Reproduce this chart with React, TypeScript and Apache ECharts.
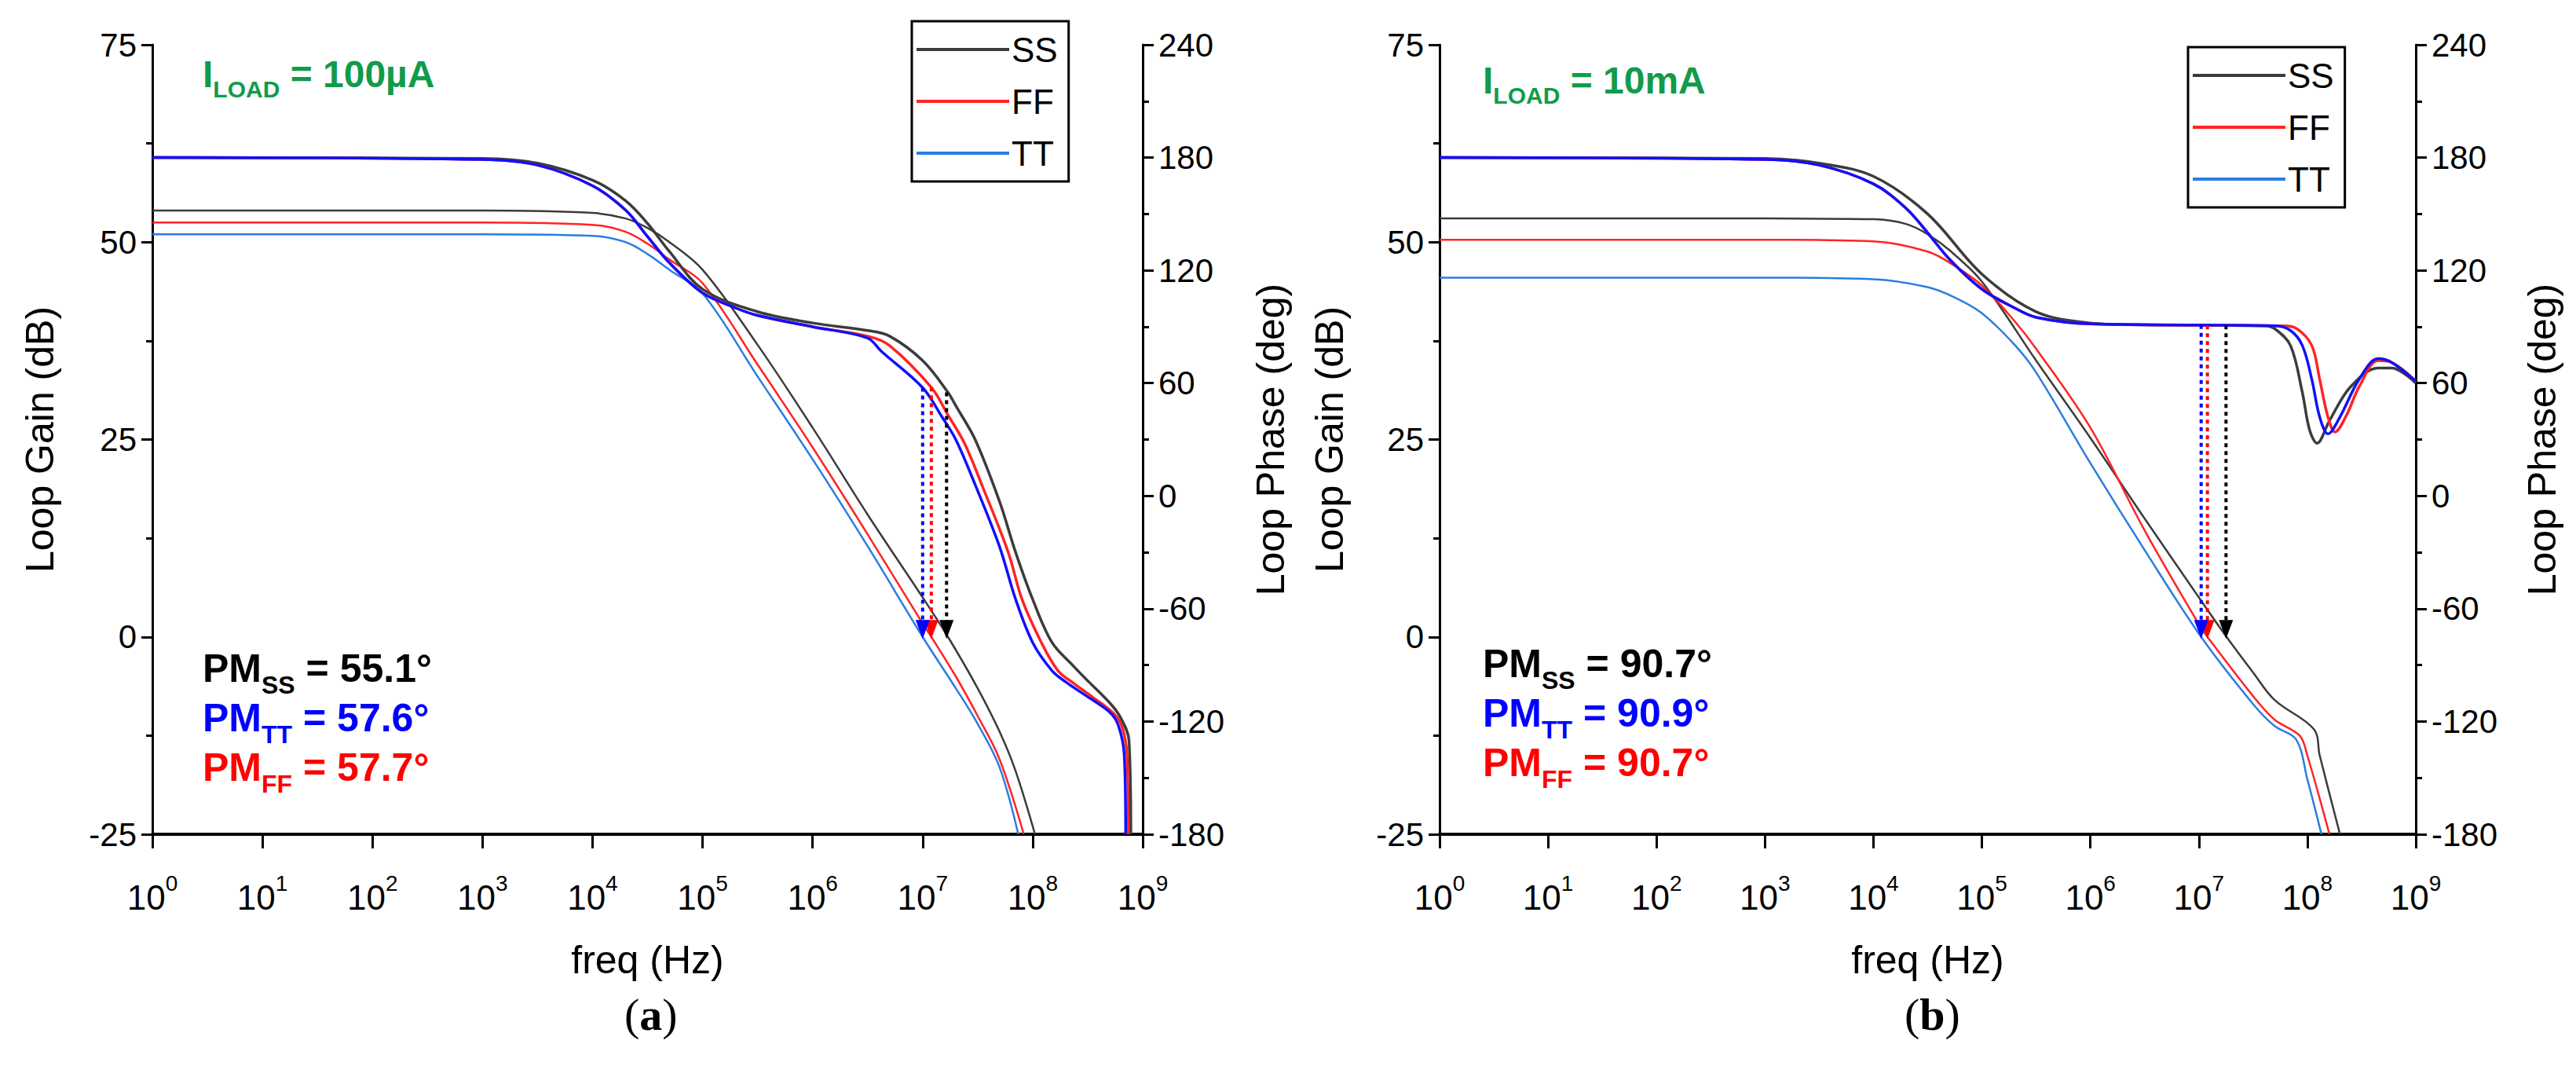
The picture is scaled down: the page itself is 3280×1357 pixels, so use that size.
import { useEffect, useRef } from "react"
import * as echarts from "echarts"

// ---- (a) ILOAD = 100uA ----
const gainA_SS = [[1, 54], [1e3, 54], [1e4, 53.7], [2e4, 53], [3.16e4, 51.8], [5e4, 50], [1e5, 46.5], [3.16e5, 37], [1e6, 26.5], [3.16e6, 15.5], [1e7, 5], [1.7e7, 0], [3.16e7, -6.5], [5e7, -12], [7e7, -17], [1.05e8, -25]]
const gainA_FF = [[1, 52.5], [1e3, 52.5], [1e4, 52.2], [2e4, 51.3], [3.16e4, 49.8], [5e4, 47.8], [1e5, 44.8], [3.16e5, 34.5], [1e6, 24], [3.16e6, 13], [1e7, 1.7], [1.2e7, 0], [2e7, -5], [3.16e7, -10], [5e7, -15.5], [8.3e7, -25]]
const gainA_TT = [[1, 51], [1e3, 51], [1e4, 50.8], [2e4, 50], [3.16e4, 48.5], [5e4, 46.5], [1e5, 43.5], [3.16e5, 33], [1e6, 22.5], [3.16e6, 11.5], [1e7, 0], [2e7, -6.5], [3.16e7, -11], [5e7, -16.5], [7.4e7, -25]]
const phaseA_SS = [[1, 180], [1e3, 179.5], [3.16e3, 177], [1e4, 168], [2e4, 157], [3.16e4, 145], [5e4, 130], [1e5, 110], [3.16e5, 98], [1e6, 92], [3.16e6, 88], [5e6, 85], [1e7, 72], [1.7e7, 55.1], [2e7, 48], [3e7, 30], [5e7, -3], [7e7, -30], [1e8, -55], [1.5e8, -78], [2.3e8, -90], [3e8, -97], [5e8, -110], [6.3e8, -118], [7.5e8, -130], [7.8e8, -180]]
const phaseA_FF = [[1, 180], [1e3, 179], [3.16e3, 176], [1e4, 165], [2e4, 152], [3.16e4, 138], [5e4, 124], [1e5, 108], [2e5, 100], [3.16e5, 96], [1e6, 90], [3.16e6, 85], [5e6, 80], [1.2e7, 57.7], [1.7e7, 43], [2.4e7, 28], [3.5e7, 5], [6e7, -30], [8e7, -55], [1.2e8, -78], [1.7e8, -93], [2.4e8, -100], [3.5e8, -107], [5.5e8, -116], [6.5e8, -123], [7.2e8, -138], [7.4e8, -180]]
const phaseA_TT = [[1, 180], [1e3, 179], [3.16e3, 176], [1e4, 165], [2e4, 152], [3.16e4, 138], [5e4, 124], [1e5, 108], [2e5, 100], [3.16e5, 96], [1e6, 90], [3.16e6, 84], [4.2e6, 77], [1e7, 57.6], [1.5e7, 42], [2e7, 30], [3e7, 6], [5e7, -27], [7e7, -55], [1e8, -78], [1.5e8, -93], [2e8, -99], [3e8, -106], [5e8, -115], [6e8, -122], [6.8e8, -138], [7e8, -180]]

// ---- (b) ILOAD = 10mA ----
const gainB_SS = [[1, 53], [1e3, 53], [1e4, 52.9], [2e4, 52.3], [3.16e4, 51], [5e4, 49], [1e5, 45], [3.16e5, 35], [1e6, 25.2], [3.16e6, 15], [1e7, 5], [1.8e7, 0], [3.16e7, -4.5], [5e7, -8], [1.15e8, -11.7], [1.3e8, -15], [2e8, -25]]
const gainB_FF = [[1, 50.3], [1e3, 50.3], [1e4, 50.1], [3.16e4, 48.8], [5.6e4, 47], [1e5, 44.5], [2e5, 40], [3.16e5, 36.5], [1e6, 26.5], [3.16e6, 13.5], [1e7, 1.6], [1.2e7, 0], [3.16e7, -7.5], [5e7, -10.5], [8.5e7, -12.5], [1e8, -15], [1.6e8, -25]]
const gainB_TT = [[1, 45.5], [1e3, 45.5], [1e4, 45.3], [3.16e4, 44.3], [5.6e4, 43], [1e5, 41], [2e5, 37], [3.16e5, 33.5], [1e6, 22], [3.16e6, 11], [1.05e7, 0], [3.16e7, -8.5], [5e7, -11.3], [7.9e7, -13], [1e8, -18], [1.35e8, -25]]
const phaseB_SS = [[1, 180], [1e3, 179.5], [3.16e3, 177], [1e4, 170], [3.16e4, 150], [1e5, 118], [3.16e5, 98], [1e6, 92], [3.16e6, 91], [4e7, 90.5], [5e7, 89], [7e7, 80], [9e7, 55], [1.05e8, 35], [1.23e8, 28], [1.6e8, 40], [2.5e8, 58], [4.5e8, 68], [6e8, 68], [1e9, 60]]
const phaseB_FF = [[1, 180], [1e3, 179], [3.16e3, 176], [1e4, 166], [2e4, 153], [3.16e4, 140], [5e4, 126], [1e5, 110], [2e5, 100], [3.16e5, 95], [1e6, 91.5], [1e7, 90.8], [6e7, 90.5], [8e7, 89], [1.1e8, 80], [1.3e8, 62], [1.55e8, 42], [1.8e8, 34], [2.3e8, 43], [3e8, 58], [4.5e8, 72], [6e8, 71], [1e9, 61]]
const phaseB_TT = [[1, 180], [1e3, 179], [3.16e3, 176], [1e4, 166], [2e4, 153], [3.16e4, 140], [5e4, 126], [1e5, 110], [2e5, 100], [3.16e5, 95], [1e6, 91.5], [1e7, 90.9], [5e7, 90.5], [7e7, 88], [9e7, 80], [1.1e8, 62], [1.3e8, 42], [1.55e8, 33], [2e8, 42], [3e8, 62], [4.5e8, 73], [6e8, 71], [1e9, 61]]

// crossover markers: [corner, freq, phase margin]
const crossA = [["SS", 1.65e7, 55.1], ["FF", 1.2e7, 57.7], ["TT", 1e7, 57.6]]
const crossB = [["SS", 1.78e7, 90.7], ["FF", 1.2e7, 90.7], ["TT", 1.05e7, 90.9]]
const pmA = [["SS", "55.1"], ["TT", "57.6"], ["FF", "57.7"]]
const pmB = [["SS", "90.7"], ["TT", "90.9"], ["FF", "90.7"]]

const gainTicks = { min: -25, max: 75, interval: 25 }
const phaseTicks = { min: -180, max: 240, interval: 60 }
const zeroDbPhase = -75 // 0 dB on the gain axis, in phase-axis units

const FONT = "Liberation Sans, Arial, sans-serif"
const gainColor: Record<string, string> = { SS: "#3c3c3c", FF: "#ff2424", TT: "#2a7ee0" }
const phaseColor: Record<string, string> = { SS: "#3c3c3c", FF: "#ff2424", TT: "#1010ff" }
const textColor: Record<string, string> = { SS: "#000000", FF: "#ff0000", TT: "#0000ff" }

export default function App() {
  const chartRef = useRef<HTMLDivElement>(null)

  useEffect(() => {
    document.body.style.margin = "0"
    if (!chartRef.current) return
    const chart = echarts.init(chartRef.current, undefined, { renderer: "svg" })

    const grids = [
      { left: 194, width: 1261, top: 57, height: 1005 },
      { left: 1833, width: 1243, top: 57, height: 1005 },
    ]

    const xAxes = grids.map((_, i) => ({
      type: "log",
      logBase: 10,
      gridIndex: i,
      min: 1,
      max: 1e9,
      interval: 1,
      name: "freq (Hz)",
      nameLocation: "middle",
      nameGap: 135,
      nameTextStyle: { fontSize: 50, color: "#000", fontFamily: FONT },
      axisLine: { onZero: false, lineStyle: { color: "#000", width: 4 } },
      axisTick: { length: 18, lineStyle: { color: "#000", width: 3 } },
      axisLabel: {
        margin: 48,
        formatter: (v: number) => `{b|10}{s|${Math.round(Math.log10(v))}}`,
        rich: {
          b: { fontSize: 44, color: "#000", fontFamily: FONT, verticalAlign: "bottom" },
          s: { fontSize: 28, color: "#000", fontFamily: FONT, verticalAlign: "top", padding: [0, 0, 26, 0] },
        },
      },
      splitLine: { show: false },
    }))

    const yAxes: any[] = []
    grids.forEach((_, i) => {
      yAxes.push({
        type: "value",
        gridIndex: i,
        position: "left",
        ...gainTicks,
        name: "Loop Gain (dB)",
        nameLocation: "middle",
        nameGap: i === 0 ? 118 : 115,
        nameTextStyle: { fontSize: 50, color: "#000", fontFamily: FONT },
        axisLine: { show: true, onZero: false, lineStyle: { color: "#000", width: 3 } },
        axisTick: { show: true, length: 14, lineStyle: { color: "#000", width: 3 } },
        minorTick: { show: true, splitNumber: 2, length: 8, lineStyle: { color: "#000", width: 3 } },
        axisLabel: { fontSize: 42, color: "#000", fontFamily: FONT, margin: 20 },
        splitLine: { show: false },
      })
      yAxes.push({
        type: "value",
        gridIndex: i,
        position: "right",
        ...phaseTicks,
        name: "Loop Phase (deg)",
        nameLocation: "middle",
        nameGap: i === 0 ? 138 : 136,
        nameRotate: 90,
        nameTextStyle: { fontSize: 50, color: "#000", fontFamily: FONT },
        axisLine: { show: true, onZero: false, lineStyle: { color: "#000", width: 3 } },
        axisTick: { show: true, length: 14, lineStyle: { color: "#000", width: 3 } },
        minorTick: { show: true, splitNumber: 2, length: 8, lineStyle: { color: "#000", width: 3 } },
        axisLabel: { fontSize: 42, color: "#000", fontFamily: FONT, margin: 20 },
        splitLine: { show: false },
      })
    })

    const curve = (name: string, data: number[][], grid: number, phase: boolean) => ({
      type: "line",
      name,
      xAxisIndex: grid,
      yAxisIndex: grid * 2 + (phase ? 1 : 0),
      data,
      smooth: 0.35,
      showSymbol: false,
      lineStyle: { width: phase ? 3.5 : 2.5, color: phase ? phaseColor[name] : gainColor[name] },
      itemStyle: { color: phase ? phaseColor[name] : gainColor[name] },
      z: phase ? 3 : 2,
    })

    const arrow = (c: any[], grid: number) => ({
      type: "line",
      name: "pm-" + c[0],
      xAxisIndex: grid,
      yAxisIndex: grid * 2 + 1,
      data: [
        { value: [c[1], c[2]], symbol: "none" },
        { value: [c[1], zeroDbPhase + 4], symbol: "triangle", symbolRotate: 180, symbolSize: [18, 24] },
      ],
      lineStyle: { width: 4, type: [5, 5], color: textColor[c[0]] },
      itemStyle: { color: textColor[c[0]] },
      z: 4,
    })

    const series = [
      curve("SS", gainA_SS, 0, false),
      curve("FF", gainA_FF, 0, false),
      curve("TT", gainA_TT, 0, false),
      curve("SS", phaseA_SS, 0, true),
      curve("FF", phaseA_FF, 0, true),
      curve("TT", phaseA_TT, 0, true),
      curve("SS", gainB_SS, 1, false),
      curve("FF", gainB_FF, 1, false),
      curve("TT", gainB_TT, 1, false),
      curve("SS", phaseB_SS, 1, true),
      curve("FF", phaseB_FF, 1, true),
      curve("TT", phaseB_TT, 1, true),
      ...crossA.map((c) => arrow(c, 0)),
      ...crossB.map((c) => arrow(c, 1)),
    ]

    const legend = (left: number, top: number) => ({
      left,
      top,
      orient: "vertical",
      data: ["SS", "FF", "TT"],
      icon: "rect",
      itemWidth: 118,
      itemHeight: 4,
      itemGap: 22,
      padding: [14, 14, 14, 6],
      borderColor: "#000",
      borderWidth: 3,
      selectedMode: false,
      textStyle: { fontSize: 44, color: "#000", fontFamily: FONT, padding: [0, 0, 0, -2] },
    })

    const loadText = (x: number, y: number, val: string) => ({
      type: "text",
      left: x,
      top: y,
      style: {
        text: `{m|I}{s|LOAD}{m| = ${val}}`,
        rich: {
          m: { fontSize: 48, fontWeight: "bold", fill: "#119b4a", fontFamily: FONT, verticalAlign: "bottom" },
          s: { fontSize: 30, fontWeight: "bold", fill: "#119b4a", fontFamily: FONT, verticalAlign: "bottom", padding: [0, 0, -10, 0] },
        },
      },
    })
    const pmText = (x: number, y: number, key: string, val: string) => ({
      type: "text",
      left: x,
      top: y,
      style: {
        text: `{m|PM}{s|${key}}{m| = ${val}°}`,
        rich: {
          m: { fontSize: 50, fontWeight: "bold", fill: textColor[key], fontFamily: FONT, verticalAlign: "bottom" },
          s: { fontSize: 32, fontWeight: "bold", fill: textColor[key], fontFamily: FONT, verticalAlign: "bottom", padding: [0, 0, -12, 0] },
        },
      },
    })
    const caption = (cx: number, letter: string) => ({
      type: "text",
      left: cx,
      top: 1262,
      style: {
        text: `{p|(}{b|${letter}}{p|)}`,
        rich: {
          p: { fontSize: 58, fill: "#000", fontFamily: "Liberation Serif, serif" },
          b: { fontSize: 58, fontWeight: "bold", fill: "#000", fontFamily: "Liberation Serif, serif" },
        },
      },
    })

    chart.setOption({
      animation: false,
      backgroundColor: "#fff",
      grid: grids,
      xAxis: xAxes,
      yAxis: yAxes,
      legend: [legend(1161, 27), legend(2786, 60)],
      series,
      graphic: [
        loadText(258, 70, "100µA"),
        loadText(1888, 78, "10mA"),
        ...pmA.map((p, i) => pmText(258, 826 + i * 63, p[0], p[1])),
        ...pmB.map((p, i) => pmText(1888, 820 + i * 63, p[0], p[1])),
        caption(795, "a"),
        caption(2425, "b"),
      ],
    })

    return () => chart.dispose()
  }, [])

  return <div ref={chartRef} style={{ width: 3280, height: 1357 }} />
}
